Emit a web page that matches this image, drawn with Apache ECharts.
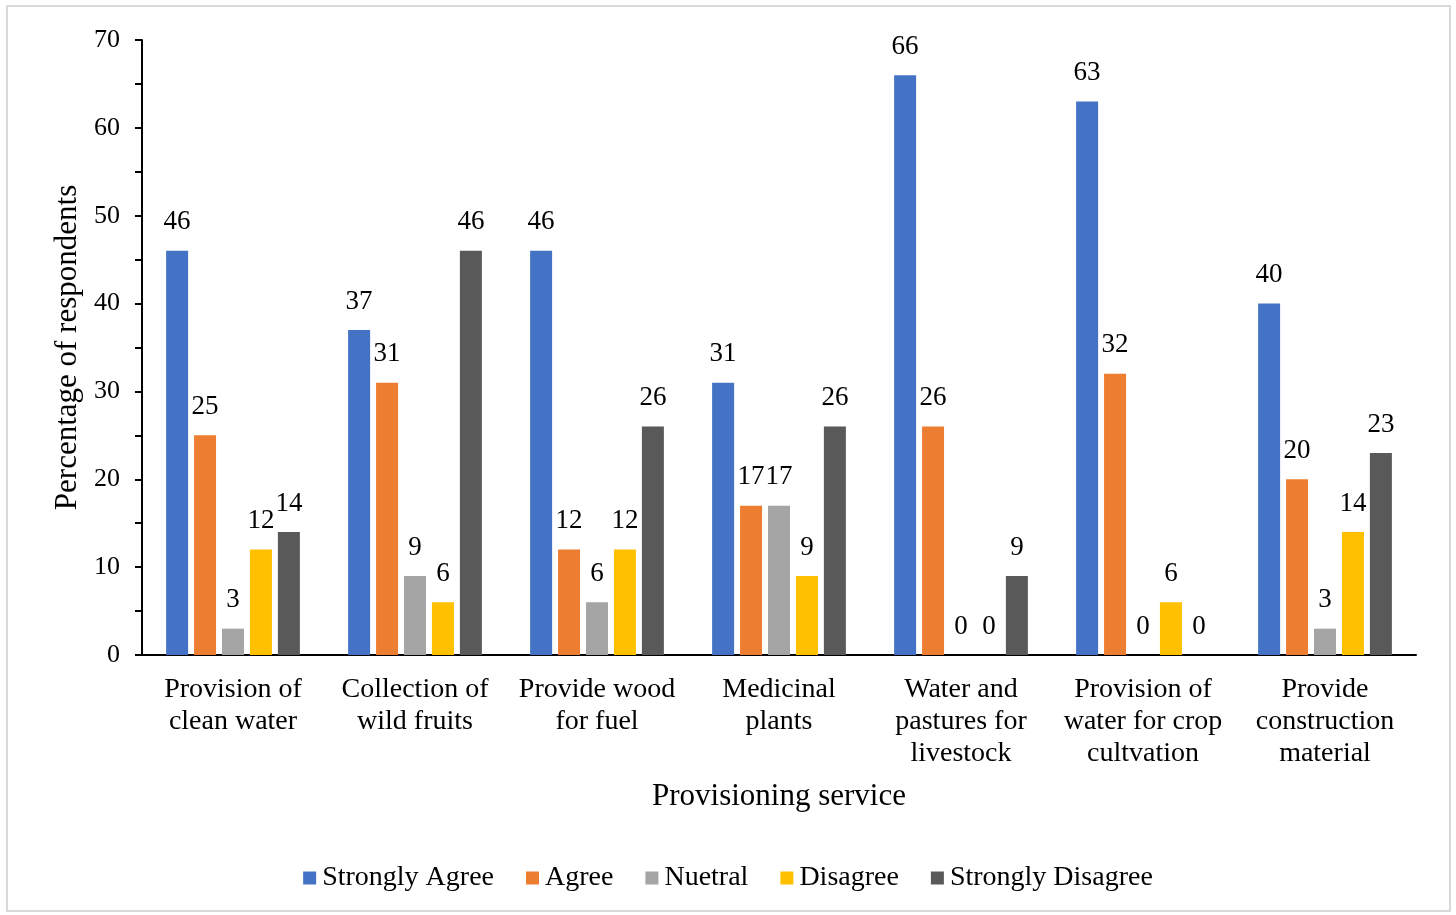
<!DOCTYPE html>
<html>
<head>
<meta charset="utf-8">
<script src="https://cdn.jsdelivr.net/npm/echarts@6/dist/echarts.min.js"></script>
<style>
  html, body { margin: 0; padding: 0; background: #fff; }
  #wrap { position: relative; width: 1456px; height: 915px; }
  #chart { width: 1456px; height: 915px; }
  #frame { position: absolute; left: 6px; top: 5px; right: 5px; bottom: 3px; border: 2px solid #d9d9d9; pointer-events: none; }
</style>
</head>
<body>
<div id="wrap">
  <div id="chart"></div>
  <div id="frame"></div>
</div>
<script>
  var categories = [
    'Provision of\nclean water',
    'Collection of\nwild fruits',
    'Provide wood\nfor fuel',
    'Medicinal\nplants',
    'Water and\npastures for\nlivestock',
    'Provision of\nwater for crop\ncultvation',
    'Provide\nconstruction\nmaterial'
  ];
  var seriesNames = ['Strongly Agree', 'Agree', 'Nuetral', 'Disagree', 'Strongly Disagree'];
  var stronglyAgree = [46, 37, 46, 31, 66, 63, 40];
  var agree = [25, 31, 12, 17, 26, 32, 20];
  var neutral = [3, 9, 6, 17, 0, 0, 3];
  var disagree = [12, 6, 12, 9, 0, 6, 14];
  var stronglyDisagree = [14, 46, 26, 26, 9, 0, 23];
  var colors = ['#4472C4', '#ED7D31', '#A5A5A5', '#FFC000', '#595959'];

  var font = 'Liberation Serif';
  var allValues = [stronglyAgree, agree, neutral, disagree, stronglyDisagree];

  var chart = echarts.init(document.getElementById('chart'));
  chart.setOption({
    animation: false,
    color: colors,
    textStyle: { fontFamily: font, color: '#000' },
    grid: { left: 142, right: 40, top: 40, bottom: 260 },
    legend: {
      bottom: 18,
      left: 'center',
      itemWidth: 13,
      itemHeight: 13,
      itemGap: 32,
      icon: 'rect',
      textStyle: { fontFamily: font, fontSize: 28, color: '#000', padding: [0, 0, 0, 1] },
      data: seriesNames
    },
    xAxis: {
      type: 'category',
      data: categories,
      name: 'Provisioning service',
      nameLocation: 'middle',
      nameGap: 126,
      nameTextStyle: { fontFamily: font, fontSize: 31, color: '#000' },
      axisLine: { lineStyle: { color: '#000', width: 2 } },
      axisTick: { show: false },
      axisLabel: { fontFamily: font, fontSize: 28, color: '#000', lineHeight: 32, margin: 19, interval: 0 }
    },
    yAxis: {
      type: 'value',
      min: 0,
      max: 70,
      interval: 10,
      name: 'Percentage of respondents',
      nameLocation: 'middle',
      nameGap: 56,
      nameTextStyle: { fontFamily: font, fontSize: 31, color: '#000' },
      axisLine: { show: true, lineStyle: { color: '#000', width: 2 } },
      axisTick: { show: true, length: 7, lineStyle: { color: '#000', width: 2 } },
      minorTick: { show: true, splitNumber: 2, length: 7, lineStyle: { color: '#000', width: 2 } },
      splitLine: { show: false },
      axisLabel: { fontFamily: font, fontSize: 26, color: '#000', margin: 22 }
    },
    series: seriesNames.map(function (name, i) {
      return {
        name: name,
        type: 'bar',
        data: allValues[i],
        barWidth: 22,
        barGap: '27%',
        label: {
          show: true,
          position: 'top',
          distance: 15,
          fontFamily: font,
          fontSize: 27,
          color: '#000'
        }
      };
    })
  });
</script>
</body>
</html>
